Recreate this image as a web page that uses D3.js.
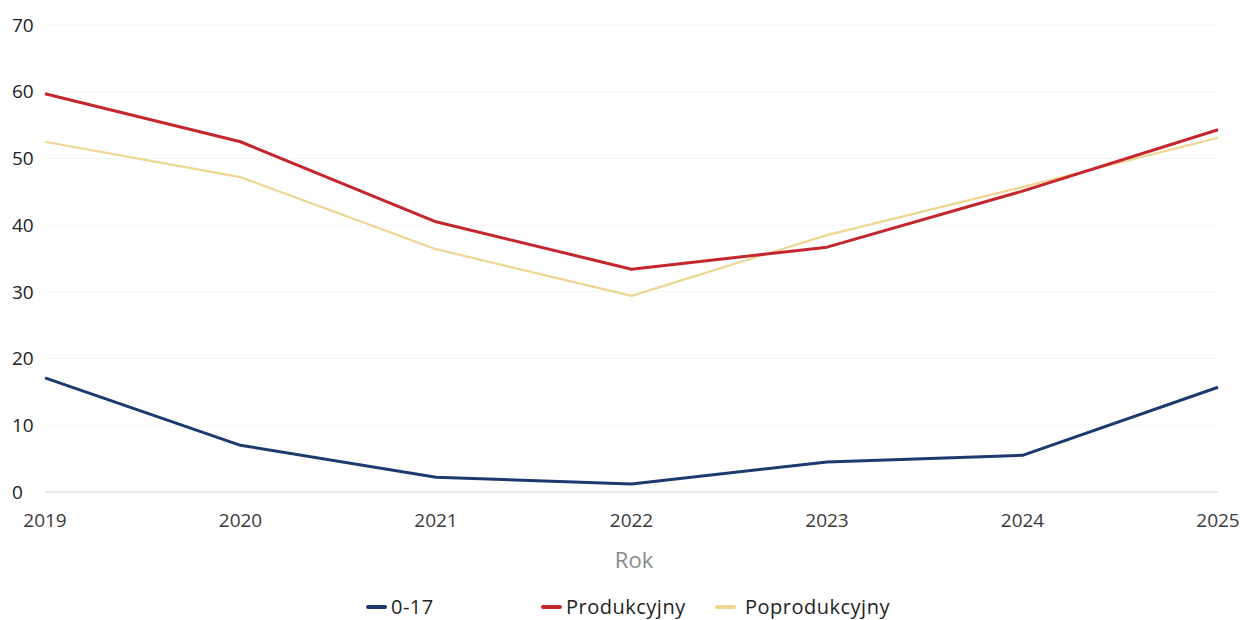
<!DOCTYPE html>
<html>
<head>
<meta charset="utf-8">
<script src="https://cdn.jsdelivr.net/npm/d3@7"></script>
<style>
  body { margin: 0; background: #fff; }
  svg text { font-family: "Open Sans", "Noto Sans", sans-serif; }
</style>
</head>
<body>
<svg id="chart" width="1243" height="620"></svg>
<script>
const years = ["2019", "2020", "2021", "2022", "2023", "2024", "2025"];
const yTicks = [0, 10, 20, 30, 40, 50, 60, 70];
const kids = [17.1, 7.0, 2.2, 1.2, 4.5, 5.5, 15.7];
const working = [59.7, 52.5, 40.5, 33.4, 36.7, 45.1, 54.3];
const retired = [52.5, 47.2, 36.4, 29.4, 38.5, 45.7, 53.1];
const seriesNames = ["0-17", "Produkcyjny", "Poprodukcyjny"];

const series = [
  {name: seriesNames[0], values: kids, color: "#1d3a6e", width: 3},
  {name: seriesNames[1], values: working, color: "#c4262e", width: 3},
  {name: seriesNames[2], values: retired, color: "#efd592", width: 2.2}
];

const svg = d3.select("#chart");

const x = d3.scalePoint().domain(years).range([45, 1218]);
const y = d3.scaleLinear().domain([0, 70]).range([492, 25]);

// grid
svg.append("g").selectAll("line")
  .data(yTicks)
  .enter().append("line")
  .attr("x1", 45).attr("x2", 1218)
  .attr("y1", d => y(d)).attr("y2", d => y(d))
  .attr("stroke", d => d === 0 ? "#e2e2e2" : "#f5f5f5")
  .attr("stroke-width", d => d === 0 ? 1.5 : 1);

// y labels
svg.append("g").selectAll("text")
  .data(yTicks)
  .enter().append("text")
  .attr("x", 12)
  .attr("y", d => y(d))
  .attr("dy", "0.35em")
  .attr("font-size", 19)
  .attr("fill", "#222")
  .text(d => d);

// x labels
svg.append("g").selectAll("text")
  .data(years)
  .enter().append("text")
  .attr("x", d => x(d))
  .attr("y", 520)
  .attr("dy", "0.35em")
  .attr("text-anchor", "middle")
  .attr("font-size", 19)
  .attr("fill", "#3a3a3a")
  .text(d => d);

svg.append("text")
  .attr("x", 634).attr("y", 560)
  .attr("dy", "0.35em")
  .attr("text-anchor", "middle")
  .attr("font-size", 22)
  .attr("fill", "#8a8a8a")
  .text("Rok");

const line = d3.line()
  .x((d, i) => x(years[i]))
  .y(d => y(d));

// draw order: yellow, red, blue
[series[2], series[1], series[0]].forEach(s => {
  svg.append("path")
    .datum(s.values)
    .attr("fill", "none")
    .attr("stroke", s.color)
    .attr("stroke-width", s.width)
    .attr("stroke-linejoin", "round")
    .attr("d", line);
});

// legend
const legendX = [368, 543, 717];
const legend = svg.append("g").selectAll("g")
  .data(series)
  .enter().append("g")
  .attr("transform", (d, i) => "translate(" + legendX[i] + ",607)");

legend.append("line")
  .attr("x1", 0).attr("x2", 17)
  .attr("stroke", d => d.color)
  .attr("stroke-width", 4)
  .attr("stroke-linecap", "round");

legend.append("text")
  .attr("x", (d, i) => i === 2 ? 28 : 23)
  .attr("dy", "0.35em")
  .attr("font-size", 20)
  .attr("letter-spacing", 0.5)
  .attr("fill", "#222")
  .text(d => d.name);
</script>
</body>
</html>
